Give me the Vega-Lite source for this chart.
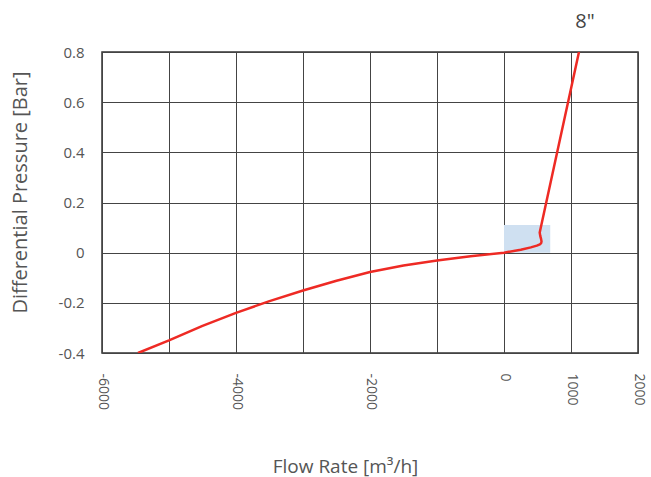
{
  "$schema": "https://vega.github.io/schema/vega-lite/v6.json",
  "autosize": "none",
  "width": 536,
  "height": 301,
  "padding": {"left": 102, "top": 52, "right": 13, "bottom": 124},
  "background": "white",
  "config": {
    "font": "Open Sans",
    "view": {"stroke": "#333", "strokeWidth": 1.5},
    "axis": {"labelFont": "Open Sans", "titleFont": "Open Sans", "labelColor": "#555", "titleColor": "#555", "titleFontWeight": "normal", "gridColor": "#444", "gridOpacity": 1, "gridWidth": 1, "domain": false, "ticks": false}
  },
  "datasets": {
    "curve": [
      {"i": 1, "flow": -5463, "dp": -0.4},
      {"i": 2, "flow": -5000, "dp": -0.35},
      {"i": 3, "flow": -4500, "dp": -0.292},
      {"i": 4, "flow": -4000, "dp": -0.24},
      {"i": 5, "flow": -3500, "dp": -0.193},
      {"i": 6, "flow": -3000, "dp": -0.151},
      {"i": 7, "flow": -2500, "dp": -0.112},
      {"i": 8, "flow": -2000, "dp": -0.077},
      {"i": 9, "flow": -1500, "dp": -0.051},
      {"i": 10, "flow": -1000, "dp": -0.031},
      {"i": 11, "flow": -500, "dp": -0.014},
      {"i": 12, "flow": 0, "dp": 0},
      {"i": 13, "flow": 250, "dp": 0.012},
      {"i": 14, "flow": 400, "dp": 0.021},
      {"i": 15, "flow": 490, "dp": 0.028},
      {"i": 16, "flow": 535, "dp": 0.033},
      {"i": 17, "flow": 555, "dp": 0.038},
      {"i": 18, "flow": 560, "dp": 0.045},
      {"i": 19, "flow": 553, "dp": 0.055},
      {"i": 20, "flow": 541, "dp": 0.067},
      {"i": 21, "flow": 533, "dp": 0.08},
      {"i": 22, "flow": 1119, "dp": 0.8}
    ],
    "box": [{"x1": 0, "x2": 690, "y1": 0, "y2": 0.11}],
    "label": [{"flow": 1209, "dp": 0.92, "text": "8\""}]
  },
  "layer": [
    {
      "data": {"name": "box"},
      "mark": {"type": "rect", "color": "#cfe0f1"},
      "encoding": {
        "x": {"field": "x1", "type": "quantitative", "scale": {"domain": [-6000, 2000], "nice": false},
          "axis": {"values": [-6000, -5000, -4000, -3000, -2000, -1000, 0, 1000, 2000], "title": "Flow Rate [m³/h]", "titleFontSize": 19, "titleX": 243, "titleY": 113, "titleBaseline": "middle", "labelFontSize": 14, "labelPadding": 20, "labelAngle": 90,
            "labelExpr": "(datum.value < 0 && datum.value % 2000 != 0) ? '' : '' + datum.value",
            "encode": {"labels": {"update": {"angle": {"signal": "datum.value === 0 ? 0 : 90"}, "align": {"signal": "datum.value === 0 ? 'center' : 'left'"}, "baseline": {"signal": "datum.value === 0 ? 'top' : 'middle'"}}}}}},
        "x2": {"field": "x2"},
        "y": {"field": "y1", "type": "quantitative", "scale": {"domain": [-0.4, 0.8], "nice": false},
          "axis": {"values": [-0.4, -0.2, 0, 0.2, 0.4, 0.6, 0.8], "title": "Differential Pressure [Bar]", "titleFontSize": 20, "titleX": -82, "titleY": 140, "titleAlign": "center", "titleBaseline": "middle", "labelFontSize": 15, "labelPadding": 18,
            "labelExpr": "'' + datum.value"}},
        "y2": {"field": "y2"}
      }
    },
    {
      "mark": {"type": "rule", "color": "#222", "strokeWidth": 3},
      "encoding": {"x": {"datum": 0, "type": "quantitative"}}
    },
    {
      "mark": {"type": "rule", "color": "#222", "strokeWidth": 3},
      "encoding": {"y": {"datum": 0, "type": "quantitative"}}
    },
    {
      "data": {"name": "curve"},
      "mark": {"type": "line", "color": "#ee2a24", "strokeWidth": 2.5, "clip": true, "strokeJoin": "round"},
      "encoding": {
        "x": {"field": "flow", "type": "quantitative"},
        "y": {"field": "dp", "type": "quantitative"},
        "order": {"field": "i", "type": "quantitative"}
      }
    },
    {
      "data": {"name": "label"},
      "mark": {"type": "text", "fontSize": 20, "color": "#444", "font": "Open Sans"},
      "encoding": {
        "x": {"field": "flow", "type": "quantitative"},
        "y": {"field": "dp", "type": "quantitative"},
        "text": {"field": "text"}
      }
    }
  ]
}
